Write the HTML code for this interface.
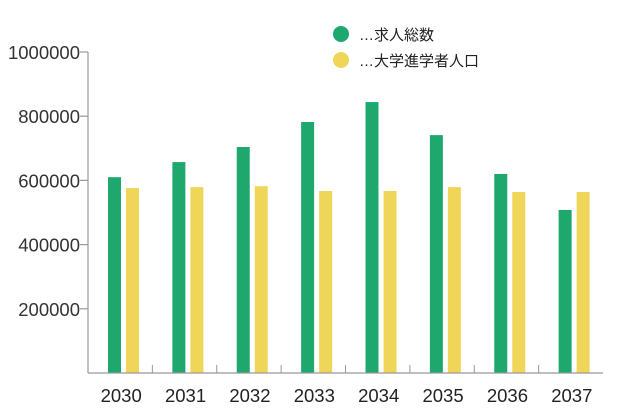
<!DOCTYPE html>
<html><head><meta charset="utf-8"><style>
body{margin:0;background:#fff;}
svg{display:block;font-family:"Liberation Sans","Noto Sans CJK JP",sans-serif;}
</style></head><body>
<svg id="chart" width="640" height="420" viewBox="0 0 640 420" xmlns="http://www.w3.org/2000/svg">
<g id="legend">
<g><circle cx="341" cy="34" r="8" fill="#1ea86e"/><text x="359" y="40" font-size="15" fill="#222">…求人総数</text></g>
<g><circle cx="341" cy="60" r="8" fill="#f0d658"/><text x="359" y="66" font-size="15" fill="#222">…大学進学者人口</text></g>
</g>
</svg>
<script>
const categories=["2030","2031","2032","2033","2034","2035","2036","2037"];
const jobs=[610000,657000,704000,782000,844000,741000,620000,508000];
const students=[576000,579000,582000,567000,567000,579000,564000,564000];
const yTicks=[200000,400000,600000,800000,1000000];
const svg=document.getElementById('chart');
const NS='http://www.w3.org/2000/svg';
const x0=88,x1=603,y0=373,yTop=52,yMax=1000000;
const band=(x1-x0)/categories.length;
function y(v){return y0-(v/yMax)*(y0-yTop);}
function bx(i){return x0+i*band;}
function mk(t,a){const e=document.createElementNS(NS,t);for(const k in a)e.setAttribute(k,a[k]);svg.appendChild(e);return e;}
categories.forEach((c,i)=>{
 const g=mk('rect',{x:bx(i)+20,y:y(jobs[i]),width:13,height:y0-y(jobs[i]),fill:'#1ea86e'});
 
 
 const s=mk('rect',{x:bx(i)+38,y:y(students[i]),width:13,height:y0-y(students[i]),fill:'#f0d658'});
 
 
 const t=mk('text',{x:bx(i)+band/2+1,y:402,'font-size':18.5,'text-anchor':'middle',fill:'#222'});
 t.textContent=c;
 
 
 if(i>0){const tk=mk('line',{x1:bx(i),x2:bx(i),y1:y0,y2:y0-8,stroke:'#999','stroke-width':1});
 
 }
});
yTicks.forEach(v=>{
 const l=mk('line',{x1:80,x2:x0,y1:y(v),y2:y(v),stroke:'#999','stroke-width':1.2});
 
 
 const t=mk('text',{x:80,y:y(v)+7,'font-size':18.5,'text-anchor':'end',fill:'#333'});
 t.textContent=v;
 
 
});
const ya=mk('line',{x1:x0,x2:x0,y1:yTop,y2:y0,stroke:'#999','stroke-width':1.2});


const xa=mk('line',{x1:x0,x2:x1,y1:y0,y2:y0,stroke:'#999','stroke-width':1.2});


</script>
</body></html>
